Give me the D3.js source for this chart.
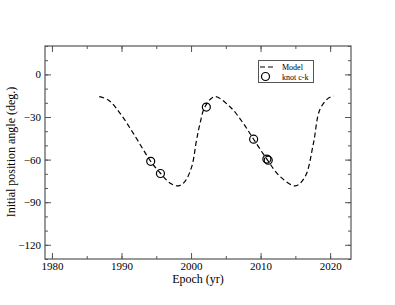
<!DOCTYPE html>
<html>
<head>
<meta charset="utf-8">
<script src="https://cdn.jsdelivr.net/npm/d3@7"></script>
<style>
  body { margin: 0; background: #fff; }
  text { font-family: "Liberation Serif", "DejaVu Serif", serif; }
</style>
</head>
<body>
<script>
// model curve
const modelYear = [1986.8, 1988.1, 1989.8, 1991.7, 1994.2, 1995.6, 1997.0, 1998.2, 1999.1, 2000.1, 2000.8, 2001.3, 2002.0, 2003.4, 2005.6, 2007.5, 2009.0, 2010.9, 2012.8, 2015.0, 2016.4, 2017.6, 2018.5, 2019.7, 2020.5]
const modelAngle = [-15.7, -18, -27.4, -41.5, -61.2, -69.6, -76.6, -78.5, -75.5, -64.9, -46, -34.4, -22.8, -15.7, -22.8, -34.4, -45.7, -59.7, -71.9, -78.5, -72, -48.5, -25, -16.9, -15.3]

// knot c-k measurements
const knotYear = [1994.2, 1995.6, 2002.2, 2009.0, 2010.9, 2011.1]
const knotAngle = [-61.2, -69.8, -23, -45.6, -59.6, -60.4]

const xTicks = [1980, 1990, 2000, 2010, 2020]
const yTicks = [0, -30, -60, -90, -120]

const W = 395, H = 305
const m = { left: 45, right: 351, top: 46, bottom: 259 }

const svg = d3.select('body').append('svg')
    .attr('width', W)
    .attr('height', H)

const x = d3.scaleLinear().domain([1979, 2023]).range([m.left, m.right])
const y = d3.scaleLinear().domain([-130, 20]).range([m.bottom, m.top])

const axisColor = '#555'

// ticks, all pointing inward
function drawAxis(axis, transform) {
    const g = svg.append('g').attr('transform', transform).call(axis)
    g.select('.domain').remove()
    g.selectAll('line').attr('stroke', axisColor)
    g.attr('font-family', '"Liberation Serif", serif').attr('font-size', 11)
    g.selectAll('text').attr('fill', '#000')
    return g
}

const xMinor = d3.range(1980, 2023, 5)
const yMinor = d3.range(-130, 21, 10)

drawAxis(d3.axisBottom(x).tickValues(xMinor).tickSize(-3).tickFormat(''), `translate(0,${m.bottom})`)
drawAxis(d3.axisTop(x).tickValues(xMinor).tickSize(-3).tickFormat(''), `translate(0,${m.top})`)
drawAxis(d3.axisLeft(y).tickValues(yMinor).tickSize(-3).tickFormat(''), `translate(${m.left},0)`)
drawAxis(d3.axisRight(y).tickValues(yMinor).tickSize(-3).tickFormat(''), `translate(${m.right},0)`)

drawAxis(d3.axisBottom(x).tickValues(xTicks).tickSize(-6).tickPadding(3).tickFormat(d3.format('d')), `translate(0,${m.bottom})`)
drawAxis(d3.axisTop(x).tickValues(xTicks).tickSize(-6).tickFormat(''), `translate(0,${m.top})`)
drawAxis(d3.axisLeft(y).tickValues(yTicks).tickSize(-6).tickPadding(4).tickFormat(d3.format('d')), `translate(${m.left},0)`)
drawAxis(d3.axisRight(y).tickValues(yTicks).tickSize(-6).tickFormat(''), `translate(${m.right},0)`)

// frame
svg.append('rect')
    .attr('x', m.left).attr('y', m.top)
    .attr('width', m.right - m.left).attr('height', m.bottom - m.top)
    .attr('fill', 'none').attr('stroke', axisColor).attr('stroke-width', 1.2)

// model
const line = d3.line()
    .x(function (d) { return x(d[0]) })
    .y(function (d) { return y(d[1]) })
    .curve(d3.curveCatmullRom)

svg.append('path')
    .datum(d3.zip(modelYear, modelAngle))
    .attr('d', line)
    .attr('fill', 'none')
    .attr('stroke', '#000')
    .attr('stroke-width', 1.2)
    .attr('stroke-dasharray', '5,3')

// knots
svg.selectAll('.knot')
    .data(d3.zip(knotYear, knotAngle))
    .enter()
    .append('circle')
    .attr('cx', function (d) { return x(d[0]) })
    .attr('cy', function (d) { return y(d[1]) })
    .attr('r', 4)
    .attr('fill', 'none')
    .attr('stroke', '#000')
    .attr('stroke-width', 1.2)

// axis titles
svg.append('text')
    .attr('x', (m.left + m.right) / 2).attr('y', 283)
    .attr('text-anchor', 'middle').attr('font-size', 12)
    .text('Epoch (yr)')

svg.append('text')
    .attr('transform', `translate(15,${(m.top + m.bottom) / 2 - 0.5}) rotate(-90)`)
    .attr('text-anchor', 'middle').attr('font-size', 12)
    .text('Initial position angle (deg.)')

// legend
const lg = svg.append('g')
lg.append('rect')
    .attr('x', 258.5).attr('y', 60.5).attr('width', 55).attr('height', 22)
    .attr('fill', '#fff').attr('stroke', axisColor).attr('stroke-width', 1)
lg.append('line')
    .attr('x1', 260).attr('x2', 275).attr('y1', 67).attr('y2', 67)
    .attr('stroke', '#000').attr('stroke-width', 1.2).attr('stroke-dasharray', '5,3')
lg.append('text').attr('x', 282).attr('y', 70).attr('font-size', 8).text('Model')
lg.append('circle').attr('cx', 265.5).attr('cy', 76.5).attr('r', 4)
    .attr('fill', 'none').attr('stroke', '#000').attr('stroke-width', 1.2)
lg.append('text').attr('x', 282).attr('y', 79.5).attr('font-size', 8).text('knot c-k')
</script>
</body>
</html>
